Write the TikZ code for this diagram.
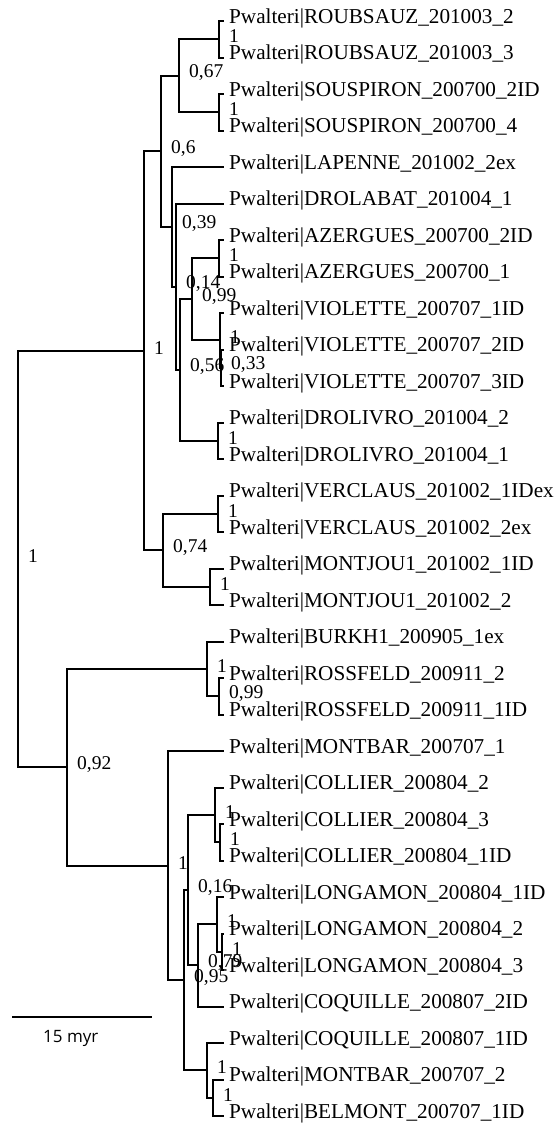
\documentclass[tikz,border=0pt]{standalone}
\usepackage{fontspec}
\setmainfont{Liberation Serif}
\newfontfamily\barfont{Open Sans}

\begin{document}
\begin{tikzpicture}[x=1pt, y=-1pt,
    branch/.style={line width=2pt},
    taxon/.style={anchor=base west, inner sep=0pt, xshift=5pt, yshift=-2pt,
        font=\fontsize{21.2}{25}\selectfont},
    supp/.style={anchor=west, inner sep=0pt, xshift=10pt, yshift=3pt,
        font=\fontsize{19.5}{23}\selectfont}]
    \useasboundingbox (0,0) rectangle (555,1128);

    % Feuilles
    \foreach \nm [count=\i] in {ROUBSAUZ\_201003\_2, ROUBSAUZ\_201003\_3,
        SOUSPIRON\_200700\_2ID, SOUSPIRON\_200700\_4, LAPENNE\_201002\_2ex,
        DROLABAT\_201004\_1, AZERGUES\_200700\_2ID, AZERGUES\_200700\_1,
        VIOLETTE\_200707\_1ID, VIOLETTE\_200707\_2ID, VIOLETTE\_200707\_3ID,
        DROLIVRO\_201004\_2, DROLIVRO\_201004\_1, VERCLAUS\_201002\_1IDex,
        VERCLAUS\_201002\_2ex, MONTJOU1\_201002\_1ID, MONTJOU1\_201002\_2,
        BURKH1\_200905\_1ex, ROSSFELD\_200911\_2, ROSSFELD\_200911\_1ID,
        MONTBAR\_200707\_1, COLLIER\_200804\_2, COLLIER\_200804\_3,
        COLLIER\_200804\_1ID, LONGAMON\_200804\_1ID, LONGAMON\_200804\_2,
        LONGAMON\_200804\_3, COQUILLE\_200807\_2ID, COQUILLE\_200807\_1ID,
        MONTBAR\_200707\_2, BELMONT\_200707\_1ID} {
        \coordinate (l\i) at (224, {21+36.5*(\i-1)});
        \node[taxon] (t\i) at (l\i) {Pwalteri|\nm};
    }

    % Noeuds internes
    \coordinate (roub) at (219, 39.25);
    \coordinate (sous) at (219, 112.25);
    \coordinate (n067) at (179, 75.75);
    \coordinate (azer) at (219, 258.25);
    \coordinate (vio2) at (221, 367.75);
    \coordinate (vio) at (220, 340.4);
    \coordinate (n099) at (192, 299.3);
    \coordinate (droli) at (218, 440.75);
    \coordinate (n056) at (180, 370);
    \coordinate (n014) at (176, 286.8);
    \coordinate (n039) at (172, 226.9);
    \coordinate (n06) at (161, 151.3);
    \coordinate (verc) at (218, 513.75);
    \coordinate (montj) at (210, 586.75);
    \coordinate (n074) at (163, 550.25);
    \coordinate (nA) at (144, 350.8);
    \coordinate (ross) at (219, 696.25);
    \coordinate (burk) at (207, 668.9);
    \coordinate (coll2) at (220, 842.25);
    \coordinate (coll) at (215, 814.9);
    \coordinate (long2) at (222, 951.75);
    \coordinate (long) at (217, 924.4);
    \coordinate (n079) at (198, 965.4);
    \coordinate (n016) at (188, 890.2);
    \coordinate (bel) at (213, 1097.75);
    \coordinate (coq) at (207, 1070.4);
    \coordinate (n095) at (184, 980.3);
    \coordinate (nB) at (168, 865.7);
    \coordinate (n092) at (67, 767.3);
    \coordinate (root) at (18, 559);

    % Branches
    \foreach \p/\c in {root/nA, root/n092, nA/n06, nA/n074, n06/n067, n06/n039,
        n067/roub, n067/sous, roub/l1, roub/l2, sous/l3, sous/l4,
        n039/l5, n039/n014, n014/l6, n014/n056, n056/n099, n056/droli,
        n099/azer, n099/vio, azer/l7, azer/l8, vio/l9, vio/vio2,
        vio2/l10, vio2/l11, droli/l12, droli/l13,
        n074/verc, n074/montj, verc/l14, verc/l15, montj/l16, montj/l17,
        n092/burk, n092/nB, burk/l18, burk/ross, ross/l19, ross/l20,
        nB/l21, nB/n095, n095/n016, n095/coq, n016/coll, n016/n079,
        coll/l22, coll/coll2, coll2/l23, coll2/l24,
        n079/long, n079/l28, long/l25, long/long2, long2/l26, long2/l27,
        coq/l29, coq/bel, bel/l30, bel/l31}
        \draw[branch] (\p) |- (\c);

    % Supports
    \foreach \c/\v in {root/1, nA/1, n06/{0,6}, n067/{0,67}, roub/1, sous/1,
        n039/{0,39}, n014/{0,14}, n099/{0,99}, azer/1, vio/1, vio2/{0,33},
        n056/{0,56}, droli/1, n074/{0,74}, verc/1, montj/1, burk/1,
        ross/{0,99}, n092/{0,92}, nB/1, coll/1, coll2/1, n016/{0,16},
        long/1, long2/1, n079/{0,79}, n095/{0,95}, coq/1, bel/1}
        \node[supp] (s-\c) at (\c) {\v};

    % Echelle
    \coordinate (sb1) at (12, 1017);
    \coordinate (sb2) at (152, 1017);
    \draw[branch] (sb1) -- (sb2);
    \node[anchor=base west, inner sep=0pt, font=\barfont\fontsize{17}{20}\selectfont]
        (sblab) at (43, 1042) {15 myr};
\end{tikzpicture}
\end{document}
